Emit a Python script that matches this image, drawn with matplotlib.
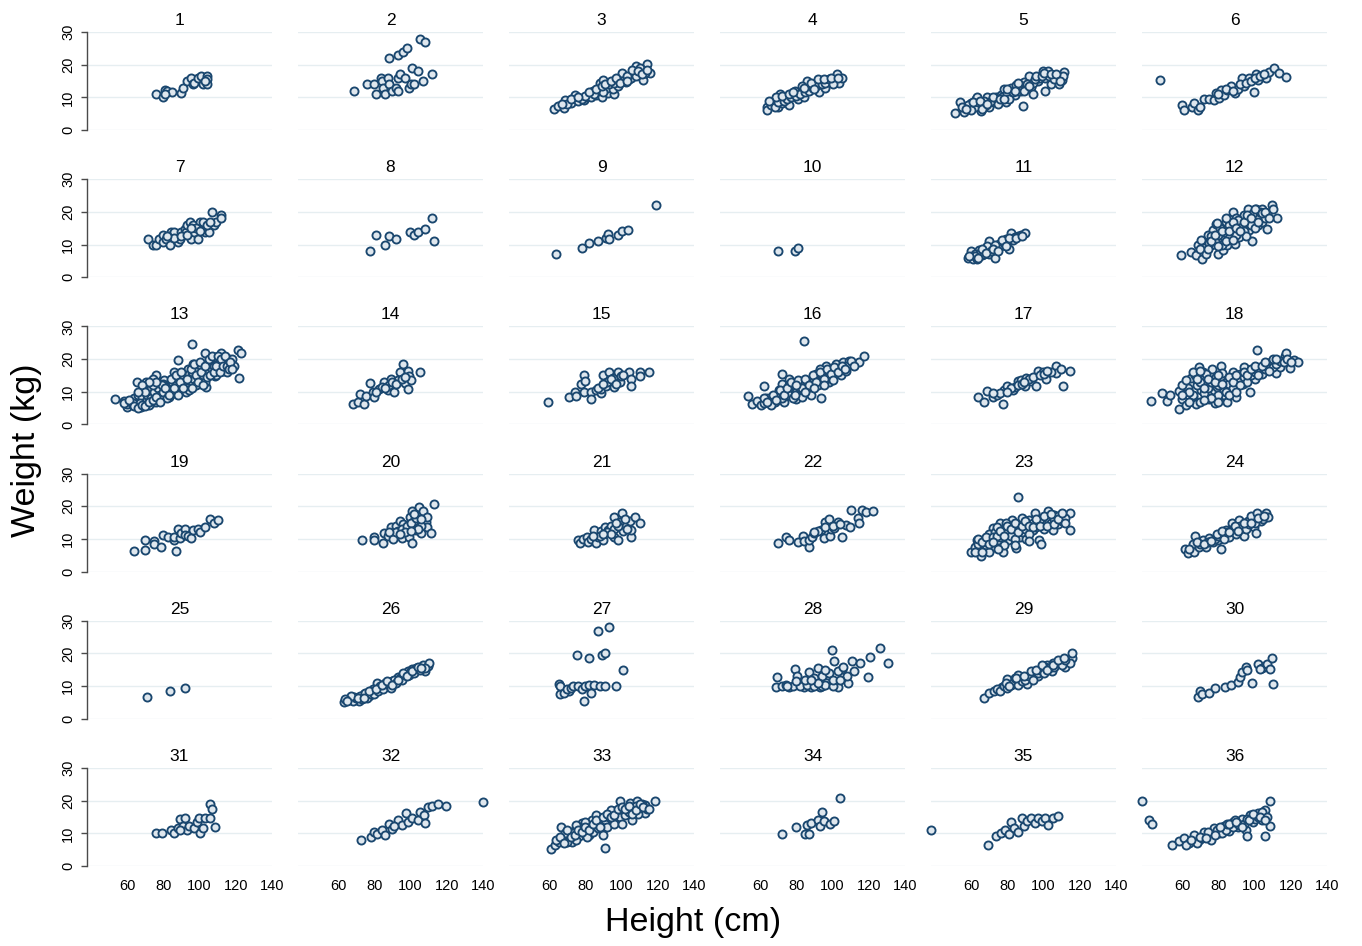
import matplotlib
matplotlib.use("Agg")
import matplotlib.pyplot as plt

# ---------------- data: (height cm, weight kg) per panel ----------------
pts01 = [(76,11),(79.6,10),(81,12.2),(82,12),(84.8,11.6),(90,11.3),(90.6,13),(93,15),(95,16),(96.5,14),
         (97,14.5),(99,16),(101,16.5),(102,14),(104,16.5),(104,15.5),(104,14),(103,15),(81,11)]
pts02 = [(68.9,12),(75.7,14),(80,14),(81,11),(83.7,16),(84,15),(85,13),(86,11),(87.4,16),(88,14),(88,22),
         (90,12),(92,13),(93,12),(93,23),(93,15.8),(94,17),(96,24),(98,25),(97,16),(99,13),(100,14),(101,19),
         (102,14),(104,18),(105,28),(107,15),(108,27),(112,17)]
pts03 = [(62.8,6.4),(65,7.3),(68,6.8),(69,9.2),(72,8.2),(74,10.7),(75.7,8.9),(79,9.2),(81,10.2),(83,10),
         (84,12),(86,10.6),(87.8,14.3),(89,10),(90,15.3),(91,12.4),(92.4,11.4),(94,13.5),(96,11),(97,14.5),
         (99,15.3),(100,17.5),(102.6,14.8),(104,15.5),(106,17.5),(108,19.6),(110,17.3),(112,15.3),(114,20.2),
         (115.6,17.3),(78,9.5),(85,11),(88,12.5),(92,13),(95,12.5),(98,13.5),(101,15),(105,16),(108,16.5),
         (112,18),(90,11.5),(80,10.5),(70,8),(93,14),(96,14.5),(103,16.5),(110,19),(113,17.5),
         (67,8),(72,9.5),(76,10),(82,11.5),(86,12.5),(89,13.5),(91,14),(94,15),(97,16),(99,14.5),(103,15),
         (106,18.5),(109,18),(111,17),(114,18.5)]
pts04 = [(64,7.1),(64,6.1),(67.8,8.7),(70,7.1),(71,11),(72,8.4),(74.3,10),(76,7.6),(79,12),(81,9.5),(83,12),
         (84.4,10),(86,15),(88,12.7),(90,14),(92.4,11.7),(93.7,15),(95.6,13),(97.4,15),(100,15.3),(101,16),
         (102.4,17),(103.5,14.3),(105,16),(66,7.5),(68,7),(70,8.5),(73,9),(75,9.5),(77,10),(80,10.5),(82,11),
         (85,11.5),(87,12),(89,13),(91,13.5),(94,14),(96,14.5),(98,15.5),(100,14),(69,10),(72,10.5),(76,11),
         (83,13.5),(88,14.5),(92,15.5),(65,9),(78,11.5),(84,13),(90,12.5),(95,15.5),(99,16),(103,16)]
pts05 = [(51,5.1),(54,8.7),(56,5.6),(58,6.6),(60,8.2),(62.6,9.4),(65.4,5.8),(66,8),(69,10.2),(70,7.1),
         (72.8,8.7),(73.7,10.2),(76.5,10.7),(78.3,12.4),(79,8.7),(82,13),(84,10.7),(85,13.8),(87.6,12),
         (88.5,7.3),(89.4,14.8),(92,16.5),(93,13.3),(94,11),(96,15.3),(97,15),(99.6,18.1),(100.6,12),(102.4,18),
         (104,14),(108.5,14),(110.4,15.3),(111,17.8),(110.5,16.5),(58,7.5),(62,7),(64,8.5),(67,9),(68,7.5),
         (71,9),(74,9.5),(75,8),(77,10),(80,11),(81,9.5),(83,11.5),(86,12),(88,13.5),(90,12.5),(91,14),
         (94,14.5),(97,16),(98,16),(101,16),(103,16.5),(106,15.5),(60,6),(63,10),(55,7),
         (57,6.5),(61,8.5),(65,9),(66,6.5),(69,8),(72,10),(76,9.5),(78,9.5),(80,12.5),(84,12),(86,14.5),
         (89,12),(92,13.5),(95,15.5),(96,16.5),(99,16.5),(100,17.5),(104,17),(107,17),(109,15)]
pts06 = [(48,15.3),(60,7.6),(61,6.1),(65.4,7.1),(66.7,8.2),(68.5,6.1),(70,7.1),(72,9.5),(75,9.5),(77.8,9.2),
         (78.7,11.2),(80.6,9.7),(81.5,12.2),(83.3,10.7),(85,12.2),(87,13.5),(89,11.2),(90.7,12.7),(93,16),
         (94.4,13.5),(96.8,15.3),(97,16),(99.4,11.7),(101,17.1),(102,15.3),(104.6,16.5),(106.5,16),(108,17.8),
         (110.6,18.9),(113.5,17.3),(117.6,16.3),(80,11),(84,12.5),(88,12),(92,14),(95,14.5),(98,15),(100,16),
         (103,16.5),(105,17)]
pts07 = [(71.7,11.8),(74,9.8),(76,9.8),(77.8,11.8),(79.6,10.8),(80,12.8),(81.5,11.8),(83.7,9.8),(84.3,13.9),
         (84.8,12.8),(86,13.9),(88,10.8),(89,11.8),(89.8,13.9),(91.7,14.9),(92.6,13.9),(93,15.9),(94.8,16.9),
         (95.4,11.8),(96.3,15.9),(97,13.9),(99,11.8),(100,16.9),(101,14.9),(102,16.9),(103,13.9),(103.5,14.9),
         (105,13.9),(107,20),(108,15.9),(109,16.9),(112,19),(112,18),(86,12),(90,12.5),(93,13),(98,15),
         (100,14),(104,16),(106,17),(95,15),(82,12.5)]
pts08 = [(77.8,8),(81,12.8),(86,9.8),(87.8,12.5),(92,11.6),(99.8,13.9),(102,12.8),(104,13.9),(108,14.9),
         (112,18.1),(113,11)]
pts09 = [(63.7,7.1),(78,9),(82,10.5),(87,11),(91.5,12.1),(92.4,13.1),(93.3,11.8),(98,13),(100,14),
         (103.5,14.4),(119,22)]
pts10 = [(70,8),(79,8),(81,9)]
pts11 = [(58,6),(60,8),(61,5.7),(63,5.7),(64.4,8.3),(66,6.7),(68,8.8),(70,11.1),(70,7),(72.8,9.3),(73.3,6),
         (75.6,10.3),(77.4,10),(79,11.8),(81,8.6),(82,13.4),(84,12.3),(85.7,12.5),(87.6,13),(90,13.5),(62,7),
         (65,7.5),(67,7),(69,9.5),(71,8),(74,9),(76,9.5),(78,10.5),(80,11),(83,11.5),(62,6.5),(59,6.5),
         (66,8.5),(73,10),(77,11.5),(81,12),(85,12),(88,12.5),(64,6),(68,7.5),(72,8.5),(75,8),(79,9.5)]
pts12 = [(59.3,6.9),(64.8,7.7),(67.6,6.7),(68.5,9.8),(71,5.7),(70.4,11.3),(73,8.3),(74,12.8),(76,9.8),
         (77,14.4),(78.7,16.2),(79.6,7.2),(80.6,11.8),(82.4,8.3),(83.3,12.3),(84,16.9),(85,9.8),(87,14.4),
         (88,20),(89,10.3),(90,18),(91.3,12.3),(93.5,15.9),(94.4,19),(96.3,21),(97,14.4),(98.7,11.2),(100,18),
         (101,21),(102,15.9),(104,21),(104.6,18.4),(107,14.9),(107,19.5),(109.6,22),(112.6,18),(72,9),
         (75,10.5),(78,11),(80,13),(82,10),(84,13.5),(86,12),(88,15),(90,13),(92,16),(94,14),(96,17),(98,16),
         (100,15),(102,19),(104,17),(106,18),(91,17.5),(86,16),(81,15),(76,12.5),(70,8.5),(73,7),(95,12.5),
         (99,19.5),(103,20),(74,8.5),(76,11),(78,13),(80,9.5),(82,14),(84,11),(86,14),(88,17),(90,15),
         (92,14),(94,17),(96,19),(98,18),(100,21),(102,17),(104,19.5),(106,20),(108,18),(110,21),(79,16.5),
         (84,18),(88,11.5)]
pts13 = [(53.3,7.8),(58.3,7.3),(60,5.3),(60,6.3),(63,5.8),(65.4,12.9),(66,7.3),(67.6,5.3),(69.4,7.3),
         (70.4,12.9),(72,10.4),(74,6.8),(76,15),(76.9,8.3),(79.6,9.9),(80.6,13.5),(83.3,8.3),(83.7,11.9),
         (86,16),(88,19.8),(89,10.9),(90.7,14),(92.6,9.9),(93.5,17),(96,24.7),(96.3,18.6),(98,12.9),(100,16),
         (102.8,21.8),(103.7,11.4),(105.6,18.6),(108.3,14.7),(109.3,20.6),(112,21.8),(113,16.5),(115.7,19.6),
         (114.8,17.5),(121,22.8),(122.6,22),(122,14.3),(62,7),(64,8),(66,9),(68,8.5),(70,7),(71,9),(73,8),
         (75,10),(77,11),(78,9),(80,10),(82,12),(84,10),(85,13),(87,12),(88,14),(90,12),(91,15),(92,13),
         (94,15.5),(95,13),(96,16),(97,14),(99,17),(100,14),(101,18),(102,15),(104,17),(105,16),(106,19),
         (107,17),(108,18),(110,17.5),(111,19),(112,18),(114,19),(116,20),(118,20),(119,18),(86,9.5),
         (89,11.5),(93,11),(98,12),(80,12.5),(74,12),(69,11),(65,6),(63,6.5),(58,6.5),(61,7.5),(67,6.5),
         (72,6),(76,7),(82,8),(88,9),(94,10.5),(103,13),(109,15),(115,16),
         (64,5.5),(66,5),(68,6),(70,5.5),(72,7),(74,7.5),(76,8.5),(78,7),(79,12),(81,11),(83,9),(84,14),
         (86,11),(87,15),(89,13),(90,16),(91,11),(93,14),(95,17),(96,11),(97,18.5),(98,15),(99,13),(100,19),
         (101,16),(102,12),(103,18),(104,14.5),(105,20),(106,15),(107,21),(108,16),(109,18),(110,21),
         (111,16),(112,20),(113,18),(114,21),(115,18),(116,17),(117,19),(118,17),(74,14),(76,13),(72,13),
         (68,12),(70,10),(66,10)]
pts14 = [(68.3,6.1),(70.7,7),(72,9.4),(74,6.3),(75.4,8.6),(77.8,12.6),(79,9.9),(80,8.3),(82.8,10.9),
         (85.5,12.9),(87.4,10.6),(89.3,14),(91,9.9),(93,13.7),(94,16),(96,18.6),(96.7,12.6),(98.5,10.9),
         (98.5,16.5),(99,14.7),(100,13.7),(105,16),(84,11.5),(88,12),(90,13),(92,12.5),(95,14),(97,14.5),
         (81,10),(86,11)]
pts15 = [(59.6,6.8),(70.7,8.3),(74,9.9),(75,8.6),(77.6,12.4),(79.4,15),(80,13.2),(79.4,9.9),(83,9.9),
         (83,7.8),(85.9,10.4),(88.7,9.7),(88.7,10.9),(89.6,15),(91.5,11.9),(93,16),(95,14.3),(96,11.4),(98,16),
         (99,12.9),(99.8,14.7),(104,16),(105.4,14),(105.4,11.9),(110,16),(110,14.7),(115,16),(92,13),(94,14),
         (97,12.5),(101,15),(87,11),(90,12.5)]
pts16 = [(53,8.7),(55.7,6.1),(58.5,7.1),(60.4,5.8),(62,11.9),(63,8.2),(65.9,6.3),(67.8,8.6),(70.6,10.4),
         (71.8,15.5),(73.3,6.8),(75,9.4),(76,14),(77.9,10.9),(79.8,7.8),(81.7,12.4),(84,25.4),(84.4,9.9),
         (86,10.9),(89,13.7),(91,15.5),(93.7,8.2),(94.6,14),(96.5,18),(98,12.9),(100,16.5),(102,18.6),
         (104.8,15),(105.7,19),(107.6,16.3),(109,19.4),(111,18.6),(114.6,19),(117.4,20.9),(65,8),(68,7),(70,9),
         (72,8),(74,11),(76,9),(78,12),(80,10),(82,11),(84,12.5),(86,13),(88,11.5),(90,14),(92,12),(94,15),
         (96,13.5),(98,16),(100,15),(102,16.5),(104,17),(106,17.5),(108,18),(88,9),(83,8.5),(78,8),(62,6.5),
         (66,6),(72,12.5),(76,12),(93,17),
         (62,8),(64,7),(67,9),(69,7.5),(71,10.5),(73,9),(75,11),(77,13),(79,9),(81,13.5),(83,11),(85,14),
         (87,12),(89,15),(91,13),(93,16),(95,14),(97,17),(99,15.5),(101,17.5),(103,16),(105,18),(107,17),
         (110,19.5),(112,18),(80,12),(85,10),(90,11),(95,12),(100,13.5)]
pts17 = [(64,8.3),(67.2,6.8),(69,10.1),(71.9,8.3),(74,8.9),(77.4,6.3),(78.3,10.4),(80,11.9),(83,10.4),
         (84,11.4),(85.7,13.2),(87.6,13.7),(90,11.9),(90.4,14.3),(93,13.2),(96,11.9),(96.8,16.3),(99.6,16),
         (101.5,14),(106.7,18),(107,15.7),(109.8,17),(110.7,11.9),(114.4,16.3),(76,9.5),(82,11),(86,12),
         (88,12.5),(92,14),(94,14.5),(98,15),(100,15.5),(104,16),(72,9.5),(80,10),(89,13),(102,16.5)]
pts18 = [(42.6,7.1),(49,9.6),(51.8,7.3),(53,8.9),(58,4.8),(58.3,10.1),(60,7.8),(62,5.8),(63,11.1),(64.8,14.3),
         (65.7,8.3),(67.6,6.3),(69.4,17.7),(70.4,10.4),(71.7,16),(73,12.9),(75,7.8),(76.5,17),(77.8,10.4),
         (78.7,14.5),(81.5,18),(82,15.7),(83.3,8.9),(85,11.4),(85,6.8),(88,14),(90,8.3),(91.7,15.5),(93.5,12.4),
         (96.3,16.5),(97.6,9.9),(100,14),(101.3,22.8),(103.7,16.3),(105.6,18.6),(109.3,19),(112,15.7),
         (114,17.7),(116.7,20.8),(117.6,21.8),(119.4,17.3),(122,19.6),(124,19),(66,9),(68,12),(70,13),
         (72,9.5),(74,11),(76,13),(79,11.5),(80,12),(84,13),(86,12.5),(88,11),(90,13.5),(92,14),(94,14.5),
         (96,13),(98,15),(100,16),(102,17),(104,15.5),(106,17),(108,18),(110,17.5),(112,18.5),(114,19.5),
         (67,15),(73,15.5),(80,9),(78,6.5),(70,7),(88,16),(94,17.5),
         (60,12),(62,13.5),(64,10),(66,16),(68,14),(70,16.5),(72,11),(74,14),(76,8),(78,13),(80,15),
         (82,12.5),(84,10),(86,14.5),(88,13),(90,15),(92,12),(94,16),(96,15),(98,17),(100,18),(102,15),
         (104,18),(106,19),(108,16.5),(110,20),(112,20),(116,19),(118,20),(120,19),(60,9),(64,7),(72,7.5),
         (80,7),(86,9),(90,10)]
pts19 = [(63.5,6.2),(69.8,9.7),(69.8,6.6),(74.6,9.3),(74.6,8.3),(78.7,7.6),(79.6,11.3),(82.4,10.5),
         (85.7,9.7),(85.7,10.6),(87,6.2),(88,13),(89,10.3),(89.8,11.7),(91.7,13),(92.2,11.3),(93.5,11),
         (95.4,10.3),(96.3,12.8),(99,13),(100,12),(102.8,13.8),(105.6,16.1),(108,14.8),(110,15.8)]
pts20 = [(73,9.7),(80,10.6),(80,9.7),(85,8.7),(85.5,11.7),(87.4,11),(89.3,13.5),(90.2,9.9),(91.7,14),
         (93,12.5),(94,15.6),(95,10.3),(96,14.6),(97.6,13),(99,10.6),(99.8,16.6),(101,18.7),(101,8.7),
         (102,15.6),(103,12.8),(104.6,19.7),(105.4,17.1),(106,11.7),(107,18.4),(108.7,15.1),(109,13.5),
         (109,16.6),(111.5,11.7),(113,20.7),(92,12),(95,13),(98,14),(100,15),(103,16.5),(106,14),(104,13),
         (97,12),(88,12),(94,11.5),(100,12.5),(102,17.5),(106,16)]
pts21 = [(75.7,9.7),(77,8.7),(78.5,10),(80.7,10.6),(81.3,9),(83,10),(85,12.8),(85.6,8.7),(86.8,10.6),
         (88.7,12.5),(90,9.7),(90.6,13.8),(92.4,12.8),(94.3,14),(95.6,10.6),(96,16.8),(98,9.7),(99,15.1),
         (100,17.8),(100.7,12.5),(102.6,14),(104.4,15.6),(105.4,10.6),(105.4,12.8),(107.2,16.6),(110,14.8),
         (88,11),(92,12),(96,13),(98,14),(102,16),(94,11.5),(84,11),(90,11.5),(97,15),(103,13)]
pts22 = [(70,8.8),(74.3,10.6),(76,9.7),(81,9),(83.9,11),(84.4,9.3),(86.8,7.4),(87,9.7),(88.7,10.6),
         (90,11.7),(93.7,12.8),(95,10.3),(95.6,15.3),(98,16.1),(98.3,11),(99.3,13),(101,13.2),(103,15.1),
         (105.4,10.6),(107.6,14.4),(109.8,13.8),(110.4,18.9),(114,16.4),(114.6,14.8),(116.5,18.9),(118.3,18.1),
         (122.4,18.4),(92,12.5),(96,13.5),(100,14),(104,14.5),(90,12)]
pts23 = [(59.8,5.9),(62.2,7.4),(63,9.7),(65.4,4.9),(66.3,7.4),(67.2,9.7),(70,10.2),(71.9,13.4),(72.4,7.6),
         (74.6,9.7),(75.9,14.8),(77.4,5.9),(78.9,12),(80.2,9.7),(82.6,15.8),(84,13),(85,7.3),(86,22.7),
         (87,10.6),(89.4,14),(90.4,10),(91.8,15.8),(94,12.8),(95,17.8),(97.4,9.7),(98.7,8.3),(99.6,14.6),
         (101.5,15.8),(102.4,18.4),(105,12.8),(105.6,17.4),(108,14.6),(110.7,17.4),(114.4,17.8),(114.4,12.8),
         (68,8),(70,11.5),(73,12),(76,10.5),(78,8),(80,12.5),(82,11),(84,10),(86,14),(88,12),(90,13),
         (92,11.5),(94,15),(96,13.5),(98,16),(100,13),(102,16.5),(104,15),(106,16),(108,17),(110,15.5),
         (112,16.5),(79,15),(74,13.5),(88,16.5),(64,8.5),(70,6),(75,7),
         (62,6),(64,10),(66,9),(68,10.5),(70,8.5),(72,10.5),(74,11),(76,12.5),(78,11),(80,14),(82,13),
         (84,15),(86,12),(88,14),(90,15.5),(92,14),(94,13.5),(96,16),(98,14),(100,17),(102,14),(104,17.5),
         (106,14.5),(108,16),(110,18),(112,15),(66,6),(72,9),(84,8),(92,9.5)]
pts24 = [(61.7,6.9),(63,5.7),(65.7,8.3),(66.7,5.9),(67.2,10.8),(69.4,7.6),(71.3,9.7),(73,7.6),(75,10.3),
         (77,9),(79.6,9.7),(81.5,6.9),(82.4,11.3),(84.3,12.8),(86,10.6),(87.6,14.8),(89.8,12.5),(91.3,15.8),
         (93.5,13.8),(94.4,11),(96.3,15.6),(98.2,17.1),(99.4,13.8),(100.6,11.7),(101.3,17.8),(103.7,15.6),
         (104.6,16.1),(106.5,17.8),(107.4,16.8),(70,8.5),(74,9),(78,10),(80,11),(83,10),(85,12),(88,13),
         (90,11.5),(92,14),(95,13),(97,14.5),(100,15),(64,7),(68,9),(72,8.5),(76,9.5),(79,11.5),(82,12.5),
         (86,12),(89,14),(91,12.5),(94,15),(98,15),(102,16.5),(105,17)]
pts25 = [(71.1,6.7),(83.9,8.6),(92.2,9.5)]
pts26 = [(63.3,5.2),(66,6.1),(69,6.7),(71.7,5.5),(74.4,7.6),(77,7),(80,8.6),(81.7,11),(84.4,9.5),(87,10),
         (90,11.6),(92.8,12.8),(95.6,13.5),(98.3,14.7),(101,15.3),(104,15.3),(106.7,16.5),(109.4,16.2),
         (107.8,14.7),(68,5.5),(70,6.5),(72,7),(73,6),(75,8),(76,6.5),(78,7.5),(79,9),(80,7.5),(82,8.5),
         (83,10),(85,9),(86,11),(88,10.5),(89,9.5),(91,12),(92,11),(94,12.5),(95,12),(97,13.5),(99,13.5),
         (100,14.5),(102,14),(103,15.5),(105,15),(67,7),(64,6),(110,17),(108,15.5),
         (65,5.5),(71,6.5),(74,6.5),(77,8.5),(81,9),(84,10.5),(87,11.5),(90,10.5),(93,12),(96,14),(98,13),
         (101,14.5),(104,16),(106,15.5)]
pts27 = [(65.6,10.7),(66,7.6),(71,8.6),(75.6,19.6),(82,18.7),(86.7,27),(89.4,19.6),(91,20),(92.8,28),
         (101,15),(96.7,10),(79.4,5.5),(66,10),(68,8),(70,9),(72,9.5),(73,10),(76,10),(78,9),(80,10),
         (82,10.5),(83,8),(85,10.5),(88,10),(91,10)]
pts28 = [(69,9.8),(69.4,12.8),(76,9.8),(79,15.3),(80.6,13.1),(84.4,9.8),(87,14.4),(88.3,9.8),(91.7,15.6),
         (92.8,9.8),(95.6,11.6),(97.2,13.5),(99.4,21.1),(101,17.7),(102.8,9.8),(105,15.3),(108.3,11),
         (110.6,17.7),(112,14.7),(115,17.1),(119.4,12.8),(120.6,19),(126,21.7),(130.6,17.1),(72,10),(74,10.5),
         (78,10),(82,10),(86,10.5),(90,10),(94,10),(96,10.5),(100,10),(80,11.5),(85,12),(90,12.5),(94,13),
         (98,14),(103,14.5),(106,16),(108,13),(75,10),(92,11),(88,12),(96,15),(100,12),(104,12)]
pts29 = [(67.2,6.4),(70,8),(72.8,8.6),(77.2,9.8),(80,12.2),(82.2,10.4),(85.6,11.6),(87.8,12.8),(91,10.7),
         (93.3,14),(96.7,13.1),(99,15.3),(102,16.5),(104.4,14.7),(107.8,17.7),(111.7,15.9),(115.6,18.7),
         (115.6,20),(114.4,17.1),(74,9),(76,8.5),(78,10),(80,9.5),(83,11),(84,12.5),(86,10.5),(88,11.5),
         (90,12),(92,13),(94,12),(95,14.5),(97,14),(98,15),(100,14),(101,16),(103,15.5),(105,17),(106,16),
         (109,17.5),(110,16.5),(112,18),(86,13.5),(79,11),(81,10),(85,12.5),(89,13),(93,14.5),(96,15),
         (99,16.5),(102,15),(105,16.5),(108,18),(111,18.5)]
pts30 = [(68.9,6.7),(70,8.6),(71,7.6),(75,8),(78.3,9.5),(83.9,9.8),(87.2,10.4),(90.6,11.3),(91.7,12.8),
         (92.8,14.4),(95,15.9),(96,15),(98.3,11),(101.7,16.8),(104,15.6),(105.6,16.2),(107,16.8),(109.4,18.7),
         (108.3,15.3),(110,10.7),(102.8,15.3)]
pts31 = [(76,10.1),(79.4,10.1),(84.4,11),(86,10.1),(87.8,11.6),(89,14.4),(90.6,12.2),(91.7,14.7),(92.8,11),
         (94.4,12.2),(96.7,11.6),(98.3,13.5),(99.4,14.7),(100,10.1),(101.7,11.6),(102.8,14.7),(106,19),
         (107,17.4),(108.3,11.9),(105.6,14.7),(89.4,11)]
pts32 = [(72.8,8),(78.3,8.9),(80,10.4),(81.7,9.8),(84.4,11),(86,9.5),(88.3,12.8),(90,11.3),(92.8,14),
         (95,12.5),(97.2,16.2),(98.3,13.5),(100.6,14.7),(104,14),(105,16.5),(107.2,15.6),(109.4,18),
         (111.7,18.3),(115,19),(119.4,18.3),(140,19.6),(107.8,13.1),(91,12.2)]
pts33 = [(61,5.2),(63.3,6.4),(65.6,7.3),(66.7,11.9),(68.3,8.6),(71,9.5),(72.8,7.3),(74.4,11),(76.7,9.2),
         (78.3,13.1),(80.6,11.3),(82.2,9.5),(83.9,14),(86,12.2),(87.8,14.7),(90,11.3),(90.6,5.5),(92.2,15.6),
         (94.4,13.5),(96,16.8),(97.8,14.7),(99,19.9),(100.6,15.9),(103.3,17.4),(104.4,19.3),(106,14),
         (108.3,19.9),(110,17.1),(112.8,16.2),(118.3,19.9),(112.8,18.7),(70,7.5),(73,10),(75,8),(77,12),
         (79,10),(81,9),(83,12),(84,10.5),(85,13),(87,11.5),(88,13.5),(89,12.5),(91,14),(92,12),(93,15),
         (95,14),(96,13),(98,16),(99,15),(101,17),(102,15.5),(104,16.5),(105,18),(107,17),(108,18.5),
         (109,16),(111,19),(114,17.5),(80,13.5),(86,15.5),(94,17),(100,13),(90,9.5),(75,12.5),(69,10),
         (64,8),(66,9),(68,7),(70,11),(72,9),(74,9.5),(76,11),(78,10.5),(80,12),(82,11),(84,13),(86,14),
         (88,12),(90,15),(92,16),(94,15),(96,15.5),(98,17.5),(100,18),(102,17.5),(104,18.5),(106,16),
         (108,17),(110,19),(112,18),(115,17.5)]
pts34 = [(72.2,9.8),(80,11.9),(85,9.8),(86,12.5),(87.2,9.8),(88.3,13.1),(91.7,14),(92.8,12.2),(93.9,16.5),
         (95,13.8),(98.3,12.8),(100.6,13.8),(104,20.8)]
pts35 = [(38,11),(69.4,6.4),(73.9,9.2),(76.7,10.1),(78.9,11),(81,9.8),(82.2,13.5),(83.9,11.6),(85.6,10.4),
         (87.8,14.7),(89.4,12.2),(91,13.8),(93.3,14.7),(95,13.1),(96.7,14.7),(98.9,13.8),(100.6,14.7),
         (102.2,12.5),(105,14.7),(107.8,15.3)]
pts36 = [(38,19.9),(41.7,14),(43.3,12.8),(54.4,6.4),(58.3,7.6),(61.1,8.6),(63.9,7),(66.7,9.5),(69.4,8),
         (72.2,10.4),(75,9.2),(77.8,11.6),(80.6,10.1),(83.3,12.2),(86,10.7),(87.8,13.5),(90.6,11.9),
         (92.8,14.4),(95,11),(97.2,15.6),(98.9,13.5),(101.7,16.2),(103.9,14),(105.6,17.1),(108.3,19.9),
         (108.3,12.2),(105.6,9.2),(96,9.2),(68,7),(71,8.5),(74,10.5),(76,8),(79,11),(82,10),(84,11),(85,13),
         (88,12),(89,14),(91,13),(94,13),(96,14.5),(100,14.5),(102,15),(104,16.5),(107,15),(62,6.5),(65,8),
         (70,9),(73,8.5),(78,9.5),(81,12),(86,13),(90,13.5),(93,12),(97,14),(99,16),(103,15),(106,14)]

panel_ids = list(range(1, 37))
panels = [pts01, pts02, pts03, pts04, pts05, pts06, pts07, pts08, pts09, pts10, pts11, pts12,
          pts13, pts14, pts15, pts16, pts17, pts18, pts19, pts20, pts21, pts22, pts23, pts24,
          pts25, pts26, pts27, pts28, pts29, pts30, pts31, pts32, pts33, pts34, pts35, pts36]
x_ticks = [60, 80, 100, 120, 140]
y_ticks = [0, 10, 20, 30]
x_label = "Height (cm)"
y_label = "Weight (kg)"

# ---------------- styling ----------------
plt.rcParams['font.family'] = ['Liberation Sans', 'DejaVu Sans']
W, H = 1362, 946
EDGE = '#1a476f'
FILL = '#dfe7ee'
GRID = '#e6eef1'
AXC = '#4a4a4a'

fig = plt.figure(figsize=(W / 100, H / 100), dpi=100)

for i, (pid, pts) in enumerate(zip(panel_ids, panels)):
    r, c = divmod(i, 6)
    left_px = 87 + 211 * c
    top_px = 32 + 147.2 * r
    ax = fig.add_axes([left_px / W, 1 - (top_px + 98) / H, 185 / W, 98 / H])
    ax.set_xlim(37.8, 140)
    ax.set_ylim(0, 30)
    for yv in y_ticks:
        ax.axhline(yv, color=GRID, lw=1.0, zorder=0)
    xs = [p[0] for p in pts]
    ys = [p[1] for p in pts]
    ax.scatter(xs, ys, s=34, facecolor=FILL, edgecolor=EDGE, linewidths=1.35,
               zorder=3, clip_on=False)
    for sp in ax.spines.values():
        sp.set_visible(False)
    ax.set_title(str(pid), fontsize=12.5, pad=5)
    if c == 0:
        ax.spines['left'].set_visible(True)
        ax.spines['left'].set_bounds(0, 30)
        ax.spines['left'].set_color(AXC)
        ax.spines['left'].set_linewidth(1.0)
        ax.set_yticks(y_ticks)
        ax.set_yticklabels([str(v) for v in y_ticks], rotation=90, va='center')
        ax.tick_params(axis='y', length=4.5, width=1.0, color=AXC, pad=4, labelsize=10.5)
    else:
        ax.set_yticks([])
    if r == 5:
        ax.set_xticks(x_ticks)
        ax.set_xticklabels([str(v) for v in x_ticks])
        ax.tick_params(axis='x', length=0, pad=9.5, labelsize=10.5)
    else:
        ax.set_xticks([])
    ax.patch.set_alpha(0)

fig.text(693 / W, 1 - 922 / H, x_label, ha='center', va='center', fontsize=24.5)
fig.text(27 / W, 1 - 450 / H, y_label, ha='center', va='center', rotation=90, fontsize=24.5)

fig.savefig('out.png', dpi=100, facecolor='white')
